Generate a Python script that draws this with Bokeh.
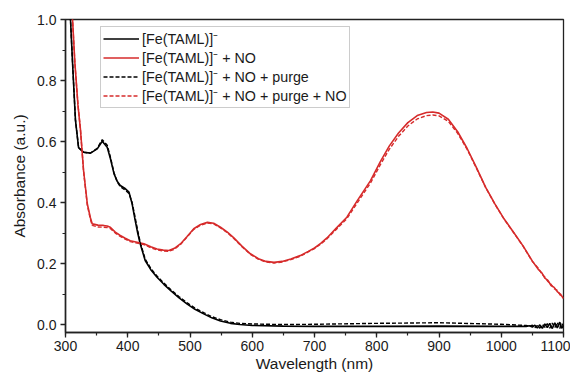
from bokeh.plotting import figure
from bokeh.models import Range1d, SingleIntervalTicker, PrintfTickFormatter, Legend, LegendItem
from bokeh.embed import file_html
from bokeh.resources import INLINE

# ---- data ----
wl_black = [300, 305, 308, 312, 316, 321, 329, 340, 351, 359, 367, 372, 378, 383, 388, 395, 402, 407, 412,
            416, 420, 428, 437, 447, 458, 469, 482, 495, 508, 522, 535, 549, 565, 580, 600, 650, 700, 800,
            900, 1000, 1040, 1045, 1050, 1054, 1058, 1062, 1066, 1070, 1074, 1078, 1082, 1086, 1090, 1094,
            1097, 1100]
abs_black = [1.60, 1.20, 1.00, 0.83, 0.67, 0.58, 0.565, 0.562, 0.576, 0.601, 0.581, 0.545, 0.494, 0.47,
             0.456, 0.447, 0.434, 0.396, 0.341, 0.30, 0.265, 0.21, 0.18, 0.155, 0.132, 0.111, 0.088, 0.068,
             0.05, 0.035, 0.022, 0.012, 0.004, 0.0, -0.003, -0.005, -0.006, -0.006, -0.005, -0.006, -0.006,
             -0.004, -0.008, -0.002, -0.011, -0.001, -0.012, 0.002, -0.010, 0.004, -0.013, 0.006, -0.011,
             0.008, -0.012, -0.004]
abs_black_purge = [1.60, 1.20, 1.00, 0.83, 0.67, 0.58, 0.565, 0.562, 0.578, 0.606, 0.588, 0.55, 0.497,
                   0.468, 0.452, 0.442, 0.43, 0.40, 0.35, 0.308, 0.27, 0.215, 0.184, 0.159, 0.136, 0.115,
                   0.092, 0.072, 0.054, 0.039, 0.026, 0.016, 0.008, 0.004, 0.002, 0.0, 0.001, 0.004, 0.006,
                   0.001, -0.003, -0.006, -0.002, -0.010, -0.003, -0.012, 0.000, -0.009, 0.003, -0.012,
                   0.005, -0.010, 0.007, -0.013, 0.004, -0.006]

wl_red = [300, 305, 310, 315, 320, 324, 329, 335, 340, 343, 352, 361, 367, 372, 380, 388, 396, 404, 415, 426,
          437, 447, 457, 466, 475, 485, 495, 506, 517, 528, 538, 549, 560, 570, 583, 597, 610, 622, 635, 648,
          662, 677, 690, 700, 710, 720, 735, 752, 769, 790, 806, 820, 835, 850, 865, 880, 890, 900, 915, 930,
          945, 960, 975, 990, 1005, 1020, 1035, 1050, 1060, 1065, 1070, 1075, 1080, 1085, 1090, 1095, 1100]
abs_red = [1.60, 1.30, 1.05, 0.86, 0.72, 0.64, 0.505, 0.396, 0.35, 0.33, 0.326, 0.325, 0.323, 0.319, 0.303,
           0.292, 0.283, 0.275, 0.27, 0.265, 0.255, 0.248, 0.244, 0.243, 0.25, 0.265, 0.288, 0.314, 0.328,
           0.335, 0.332, 0.319, 0.303, 0.285, 0.258, 0.232, 0.216, 0.207, 0.204, 0.207, 0.215, 0.226, 0.240,
           0.251, 0.266, 0.284, 0.316, 0.352, 0.407, 0.472, 0.535, 0.585, 0.628, 0.662, 0.685, 0.695, 0.697,
           0.693, 0.673, 0.632, 0.578, 0.515, 0.45, 0.395, 0.345, 0.302, 0.258, 0.208, 0.18, 0.170, 0.152,
           0.145, 0.128, 0.122, 0.108, 0.100, 0.085]
abs_red_purge = [1.60, 1.30, 1.05, 0.86, 0.72, 0.64, 0.503, 0.392, 0.345, 0.325, 0.320, 0.319, 0.318, 0.315,
                 0.300, 0.289, 0.280, 0.272, 0.267, 0.262, 0.252, 0.245, 0.241, 0.240, 0.247, 0.263, 0.286,
                 0.312, 0.326, 0.333, 0.330, 0.317, 0.301, 0.283, 0.256, 0.230, 0.214, 0.205, 0.202, 0.205,
                 0.213, 0.224, 0.238, 0.249, 0.264, 0.281, 0.312, 0.347, 0.400, 0.464, 0.525, 0.574, 0.617,
                 0.651, 0.674, 0.685, 0.687, 0.684, 0.666, 0.627, 0.575, 0.513, 0.449, 0.394, 0.344, 0.301,
                 0.257, 0.207, 0.184, 0.166, 0.156, 0.141, 0.132, 0.118, 0.112, 0.096, 0.088]

labels = ["[Fe(TAML)]\u207b", "[Fe(TAML)]\u207b + NO", "[Fe(TAML)]\u207b + NO + purge",
          "[Fe(TAML)]\u207b + NO + purge + NO"]

RED = "#d62b2b"
FONT = "Liberation Sans"
TXT = "#1a1a1a"

p = figure(width=570, height=376, output_backend="svg", toolbar_location=None,
           x_range=Range1d(300, 1100), y_range=Range1d(-0.026, 1.0),
           min_border_left=65, min_border_right=7, min_border_top=19, min_border_bottom=44)
p.background_fill_color = "white"
p.border_fill_color = "white"
p.outline_line_color = "#222222"
p.outline_line_width = 1.3
p.xgrid.visible = False
p.ygrid.visible = False

r1 = p.line(wl_black, abs_black, line_color="black", line_width=1.6)
r2 = p.line(wl_red, abs_red, line_color=RED, line_width=1.6)
r3 = p.line(wl_black, abs_black_purge, line_color="black", line_width=1.4, line_dash="4 2")
r4 = p.line(wl_red, abs_red_purge, line_color=RED, line_width=1.4, line_dash="4 2")

p.xaxis.ticker = SingleIntervalTicker(interval=100, num_minor_ticks=2)
p.yaxis.ticker = SingleIntervalTicker(interval=0.2, num_minor_ticks=2)
p.yaxis.formatter = PrintfTickFormatter(format="%.1f")

for ax in (p.xaxis, p.yaxis):
    ax.axis_line_color = "#222222"
    ax.axis_line_width = 1.5
    ax.major_tick_line_color = "#222222"
    ax.minor_tick_line_color = "#222222"
    ax.major_tick_line_width = 1.3
    ax.minor_tick_line_width = 1.2
    ax.major_tick_out = 5
    ax.major_tick_in = 0
    ax.minor_tick_out = 3
    ax.minor_tick_in = 0
    ax.major_label_text_font = FONT
    ax.major_label_text_font_size = "14px"
    ax.major_label_text_color = TXT
    ax.axis_label_text_font = FONT
    ax.axis_label_text_font_size = "15.5px"
    ax.axis_label_text_font_style = "normal"
    ax.axis_label_text_color = TXT

p.xaxis.axis_label = "Wavelength (nm)"
p.yaxis.axis_label = "Absorbance (a.u.)"
p.xaxis.major_label_standoff = 3
p.xaxis.axis_label_standoff = 1
p.yaxis.major_label_standoff = 4
p.yaxis.axis_label_standoff = 6

legend = Legend(items=[LegendItem(label=labels[0], renderers=[r1]),
                       LegendItem(label=labels[1], renderers=[r2]),
                       LegendItem(label=labels[2], renderers=[r3]),
                       LegendItem(label=labels[3], renderers=[r4])],
                location=(35, 224))
legend.border_line_color = "#999999"
legend.border_line_width = 1
legend.background_fill_alpha = 1
legend.padding = 2
legend.spacing = 0
legend.margin = 0
legend.glyph_width = 36
legend.glyph_height = 17
legend.label_height = 18
legend.label_standoff = 3
legend.label_text_font = FONT
legend.label_text_font_size = "14.3px"
legend.label_text_color = TXT
p.add_layout(legend, "center")

open("out.html", "w").write(file_html(p, INLINE))
